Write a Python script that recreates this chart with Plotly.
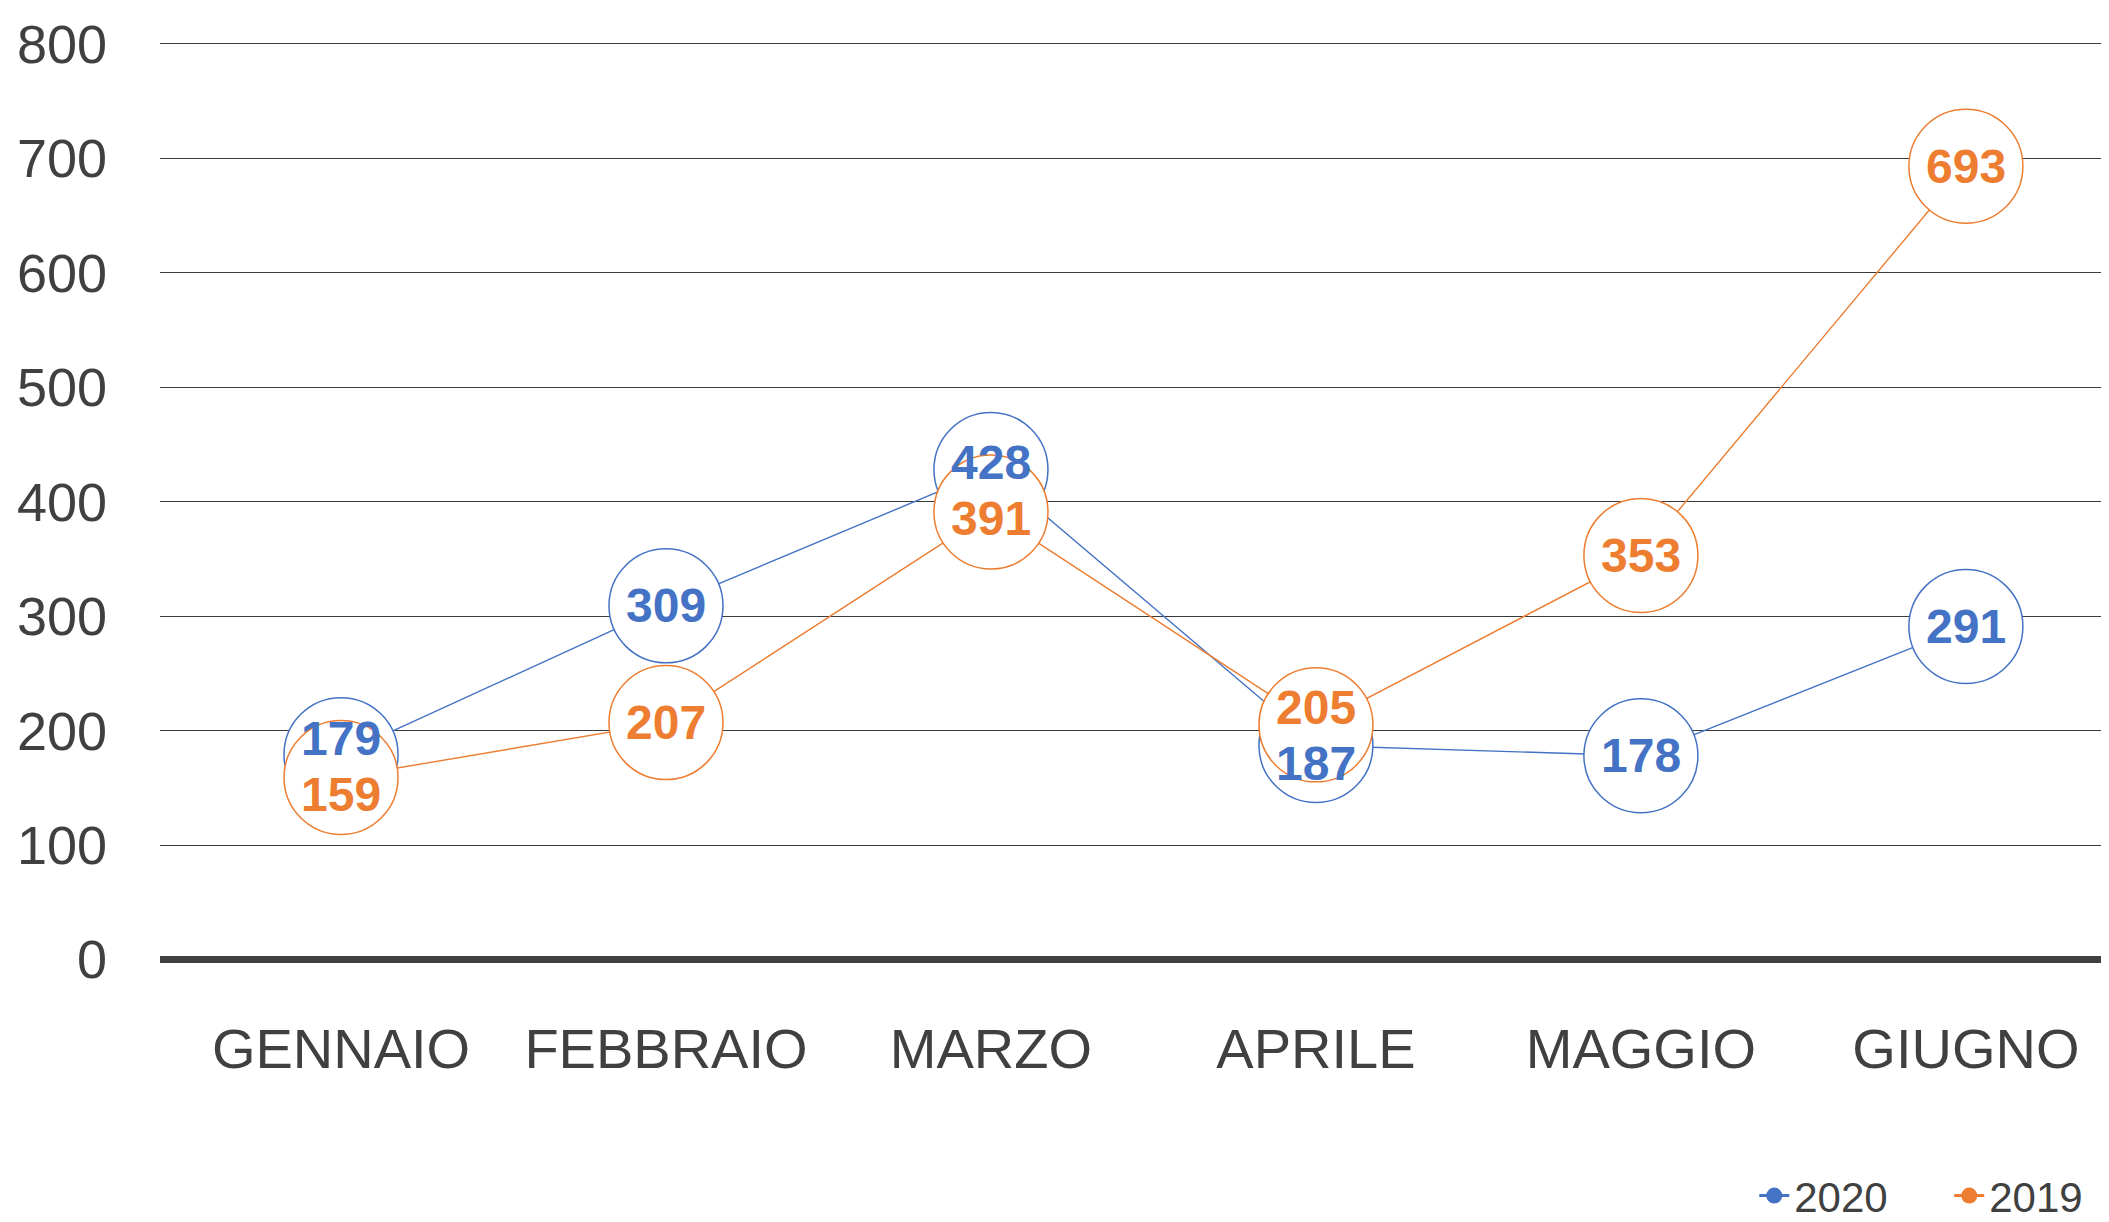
import plotly.graph_objects as go

months = ["GENNAIO", "FEBBRAIO", "MARZO", "APRILE", "MAGGIO", "GIUGNO"]
y2020 = [179, 309, 428, 187, 178, 291]
y2019 = [159, 207, 391, 205, 353, 693]
ytick_vals = [0, 100, 200, 300, 400, 500, 600, 700, 800]

BLUE = "#4472C4"
ORANGE = "#ED7D31"
GRID = "#3a3a3a"
TXT = "#404040"
LBL_FONT = "Liberation Sans, Arial"
LBL_SIZE = 48
PAIR_SHIFT = 28

fig = go.Figure()

# connecting lines (below all circles)
for name, ys, col in [("2020", y2020, BLUE), ("2019", y2019, ORANGE)]:
    fig.add_trace(go.Scatter(x=months, y=ys, mode="lines", line=dict(color=col, width=1.4),
                             showlegend=False, hoverinfo="skip"))

# circles
for name, ys, col in [("2020", y2020, BLUE), ("2019", y2019, ORANGE)]:
    fig.add_trace(go.Scatter(x=months, y=ys, mode="markers", name=name, showlegend=False,
                             marker=dict(symbol="circle", size=114, color="white",
                                         line=dict(color=col, width=1.5))))

# legend-only entries
for name, col in [("2020", BLUE), ("2019", ORANGE)]:
    fig.add_trace(go.Scatter(x=[None], y=[None], mode="lines+markers", name=name,
                             line=dict(color=col, width=3),
                             marker=dict(symbol="circle", size=46, color=col)))

# value labels
for m, a, b in zip(months, y2020, y2019):
    if abs(a - b) < 60:
        mid = (a + b) / 2
        hi_a = a > b
        fig.add_annotation(x=m, y=mid, text=f"<b>{a}</b>", showarrow=False,
                           yshift=PAIR_SHIFT if hi_a else -PAIR_SHIFT,
                           font=dict(color=BLUE, size=LBL_SIZE, family=LBL_FONT))
        fig.add_annotation(x=m, y=mid, text=f"<b>{b}</b>", showarrow=False,
                           yshift=-PAIR_SHIFT if hi_a else PAIR_SHIFT,
                           font=dict(color=ORANGE, size=LBL_SIZE, family=LBL_FONT))
    else:
        fig.add_annotation(x=m, y=a, text=f"<b>{a}</b>", showarrow=False,
                           font=dict(color=BLUE, size=LBL_SIZE, family=LBL_FONT))
        fig.add_annotation(x=m, y=b, text=f"<b>{b}</b>", showarrow=False,
                           font=dict(color=ORANGE, size=LBL_SIZE, family=LBL_FONT))

fig.update_layout(
    width=2109, height=1222,
    margin=dict(l=152, r=0, t=30, b=259, autoexpand=False),
    paper_bgcolor="white", plot_bgcolor="white",
    font=dict(family="Liberation Sans, Arial", color=TXT),
    xaxis=dict(type="category", categoryorder="array", categoryarray=months,
               range=[-0.557, 5.465], showgrid=False, zeroline=False, showline=False,
               ticks="", tickfont=dict(size=56, color=TXT), ticklabelstandoff=40),
    yaxis=dict(range=[-10, 805], tickvals=ytick_vals, showgrid=True, gridcolor=GRID,
               gridwidth=1.3, zeroline=True, zerolinecolor=TXT, zerolinewidth=7,
               showline=False, ticks="", tickfont=dict(size=54, color=TXT),
               ticklabelstandoff=52),
    legend=dict(orientation="h", xref="container", yref="container",
                x=0.828, xanchor="left", y=0.028, yanchor="middle",
                entrywidth=150, entrywidthmode="pixels",
                font=dict(size=42, color=TXT), bgcolor="rgba(0,0,0,0)"),
    showlegend=True,
)

fig.write_html("out.html")
